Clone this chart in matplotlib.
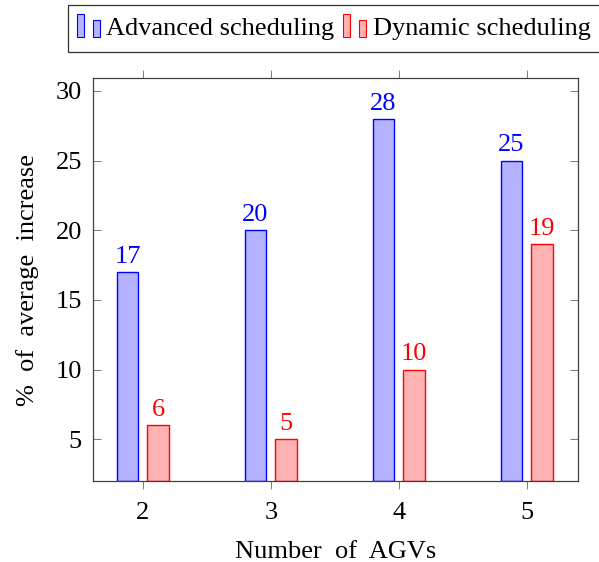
import matplotlib
matplotlib.use("Agg")
import matplotlib.pyplot as plt
from matplotlib.patches import Rectangle
from matplotlib.legend_handler import HandlerBase
import numpy as np

agvs = [2, 3, 4, 5]
advanced = [17, 20, 28, 25]
dynamic = [6, 5, 10, 19]
series_names = ["Advanced scheduling", "Dynamic scheduling"]

plt.rcParams['font.family'] = ['Liberation Serif', 'DejaVu Serif']
plt.rcParams['mathtext.fontset'] = 'stix'
FS = 19

fig = plt.figure(figsize=(5.99, 5.62), dpi=100)
ax = fig.add_axes([93/599, 1-481/562, (578-93)/599, (481-78)/562])

blue_fill = (0.7, 0.7, 1.0)
red_fill = (1.0, 0.7, 0.7)
w = 0.17
off = 0.12
x = np.array(agvs, dtype=float)
bottom = 2
ax.bar(x - off, np.array(advanced) - bottom, w, bottom=bottom, color=blue_fill, edgecolor='blue', linewidth=1)
ax.bar(x + off, np.array(dynamic) - bottom, w, bottom=bottom, color=red_fill, edgecolor='red', linewidth=1)
for xi, v in zip(x - off, advanced):
    ax.text(xi, v + 0.3, str(v), ha='center', va='bottom', color='blue', fontsize=FS)
for xi, v in zip(x + off, dynamic):
    ax.text(xi, v + 0.3, str(v), ha='center', va='bottom', color='red', fontsize=FS)

ax.set_xlim(1.61, 5.4)
ax.set_ylim(2, 30.93)
ax.set_xticks(agvs)
ax.set_yticks([5, 10, 15, 20, 25, 30])
ax.tick_params(axis='x', direction='out', top=True, bottom=True, labeltop=False,
               length=6, width=0.6, color='0.4', labelsize=FS, pad=9)
ax.tick_params(axis='y', direction='in', left=True, right=True,
               length=6, width=0.6, color='0.4', labelsize=FS, pad=8)
for s in ax.spines.values():
    s.set_color('0.25')
    s.set_linewidth(0.9)
ax.set_xlabel("Number  of  AGVs", fontsize=FS, labelpad=12)
ax.set_ylabel("%  of  average  increase", fontsize=FS, labelpad=12)


class TwoBarHandler(HandlerBase):
    def __init__(self, fc, ec):
        super().__init__()
        self.fc = fc
        self.ec = ec

    def create_artists(self, legend, orig_handle, xdescent, ydescent, width, height, fontsize, trans):
        bw = width * 0.32
        x0 = -xdescent - width * 0.15
        r1 = Rectangle((x0, -ydescent - 0.1 * height), bw, height * 1.25,
                       facecolor=self.fc, edgecolor=self.ec, linewidth=0.8, transform=trans)
        r2 = Rectangle((x0 + width * 0.72, -ydescent - 0.1 * height), bw, height * 0.95,
                       facecolor=self.fc, edgecolor=self.ec, linewidth=0.8, transform=trans)
        return [r1, r2]


h1 = Rectangle((0, 0), 1, 1)
h2 = Rectangle((0, 0), 1, 1)
leg = fig.legend([h1, h2], series_names, loc='upper left',
                 bbox_to_anchor=(68/599, 1-5/562), ncol=2, fontsize=FS,
                 frameon=True, fancybox=False, edgecolor='black',
                 handlelength=0.85, handletextpad=0.15, columnspacing=0.45,
                 borderpad=0.45, borderaxespad=0,
                 handler_map={h1: TwoBarHandler(blue_fill, 'blue'),
                              h2: TwoBarHandler(red_fill, 'red')})
leg.get_frame().set_linewidth(0.9)

fig.savefig("out.png", dpi=100)
